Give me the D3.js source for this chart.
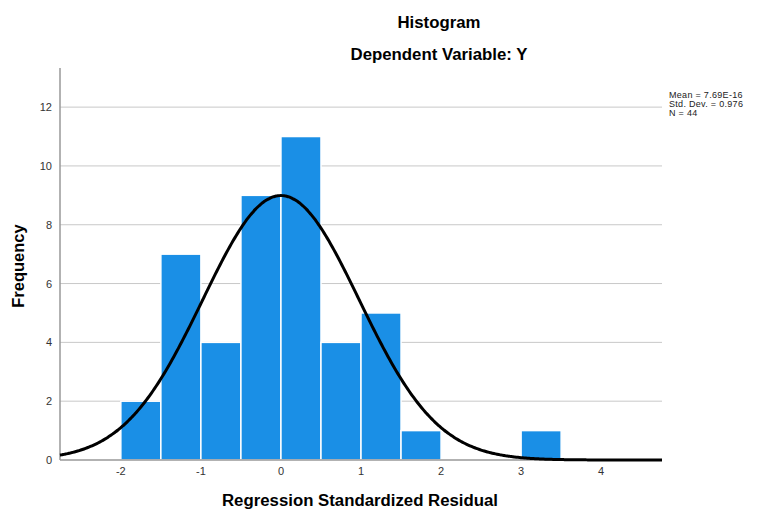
<!DOCTYPE html>
<html>
<head>
<meta charset="utf-8">
<script src="https://cdn.jsdelivr.net/npm/d3@7"></script>
<style>
  body { margin: 0; background: #fff; }
  text { font-family: "Liberation Sans", Arial, sans-serif; }
</style>
</head>
<body>
<svg id="chart"></svg>
<script>
// histogram bins (lower edge, upper edge, count)
var binStart = [-2, -1.5, -1, -0.5, 0, 0.5, 1, 1.5, 3];
var binEnd   = [-1.5, -1, -0.5, 0, 0.5, 1, 1.5, 2, 3.5];
var counts   = [2, 7, 4, 9, 11, 4, 5, 1, 1];
var xTicks = [-2, -1, 0, 1, 2, 3, 4];
var yTicks = [0, 2, 4, 6, 8, 10, 12];
var statLines = ["Mean = 7.69E-16", "Std. Dev. = 0.976", "N = 44"];
var mean = 7.69e-16, sd = 0.976, n = 44, binWidth = 0.5;

var width = 757, height = 510;
var plotLeft = 60, plotRight = 662, plotTop = 68, plotBottom = 460;

var svg = d3.select("#chart").attr("width", width).attr("height", height);

var x = d3.scaleLinear().domain([-2.76, 4.76]).range([plotLeft, plotRight]);
var y = d3.scaleLinear().domain([0, 13.33]).range([plotBottom, plotTop]);

// gridlines
svg.append("g").selectAll("line")
  .data(yTicks.filter(function(d){ return d > 0; }))
  .enter().append("line")
  .attr("x1", plotLeft).attr("x2", plotRight)
  .attr("y1", function(d){ return y(d); })
  .attr("y2", function(d){ return y(d); })
  .attr("stroke", "#c8c8c8").attr("stroke-width", 1);

// bars
svg.append("g").selectAll("rect")
  .data(counts)
  .enter().append("rect")
  .attr("x", function(d, i){ return x(binStart[i]); })
  .attr("width", function(d, i){ return x(binEnd[i]) - x(binStart[i]); })
  .attr("y", function(d){ return y(d); })
  .attr("height", function(d){ return plotBottom - y(d); })
  .attr("fill", "#1a8fe6")
  .attr("stroke", "#ffffff")
  .attr("stroke-width", 1.5);

// axes lines
svg.append("line").attr("x1", plotLeft).attr("x2", plotLeft).attr("y1", plotTop).attr("y2", plotBottom)
  .attr("stroke", "#999").attr("stroke-width", 1.5);
svg.append("line").attr("x1", plotLeft).attr("x2", plotRight).attr("y1", plotBottom).attr("y2", plotBottom)
  .attr("stroke", "#999").attr("stroke-width", 1.5);

// normal curve
var pts = d3.range(-2.76, 4.77, 0.02);
var line = d3.line()
  .x(function(d){ return x(d); })
  .y(function(d){
    var z = (d - mean) / sd;
    return y(n * binWidth * Math.exp(-0.5 * z * z) / (sd * Math.sqrt(2 * Math.PI)));
  })
  .curve(d3.curveBasis);
svg.append("path")
  .datum(pts)
  .attr("d", line)
  .attr("fill", "none")
  .attr("stroke", "#000")
  .attr("stroke-width", 3);

// tick labels
svg.append("g").selectAll("text")
  .data(yTicks).enter().append("text")
  .attr("x", plotLeft - 8)
  .attr("y", function(d){ return y(d) + 4; })
  .attr("text-anchor", "end")
  .attr("font-size", "11px").attr("fill", "#333")
  .text(function(d){ return d; });

svg.append("g").selectAll("text")
  .data(xTicks).enter().append("text")
  .attr("x", function(d){ return x(d); })
  .attr("y", plotBottom + 15)
  .attr("text-anchor", "middle")
  .attr("font-size", "11px").attr("fill", "#333")
  .text(function(d){ return d; });

// titles
svg.append("text").attr("x", 439).attr("y", 28).attr("text-anchor", "middle")
  .attr("font-size", "16.8px").attr("font-weight", "bold").text("Histogram");
svg.append("text").attr("x", 439).attr("y", 60).attr("text-anchor", "middle")
  .attr("font-size", "16.8px").attr("font-weight", "bold").text("Dependent Variable: Y");
svg.append("text").attr("x", 360).attr("y", 506).attr("text-anchor", "middle")
  .attr("font-size", "16.8px").attr("font-weight", "bold").text("Regression Standardized Residual");
svg.append("text").attr("transform", "translate(24,266) rotate(-90)").attr("text-anchor", "middle")
  .attr("font-size", "16.5px").attr("font-weight", "bold").text("Frequency");

// stats box
svg.append("g").selectAll("text")
  .data(statLines).enter().append("text")
  .attr("x", 669)
  .attr("y", function(d, i){ return 98 + i * 9; })
  .attr("font-size", "9px").attr("letter-spacing", "0.3px").attr("fill", "#222")
  .text(function(d){ return d; });
</script>
</body>
</html>
